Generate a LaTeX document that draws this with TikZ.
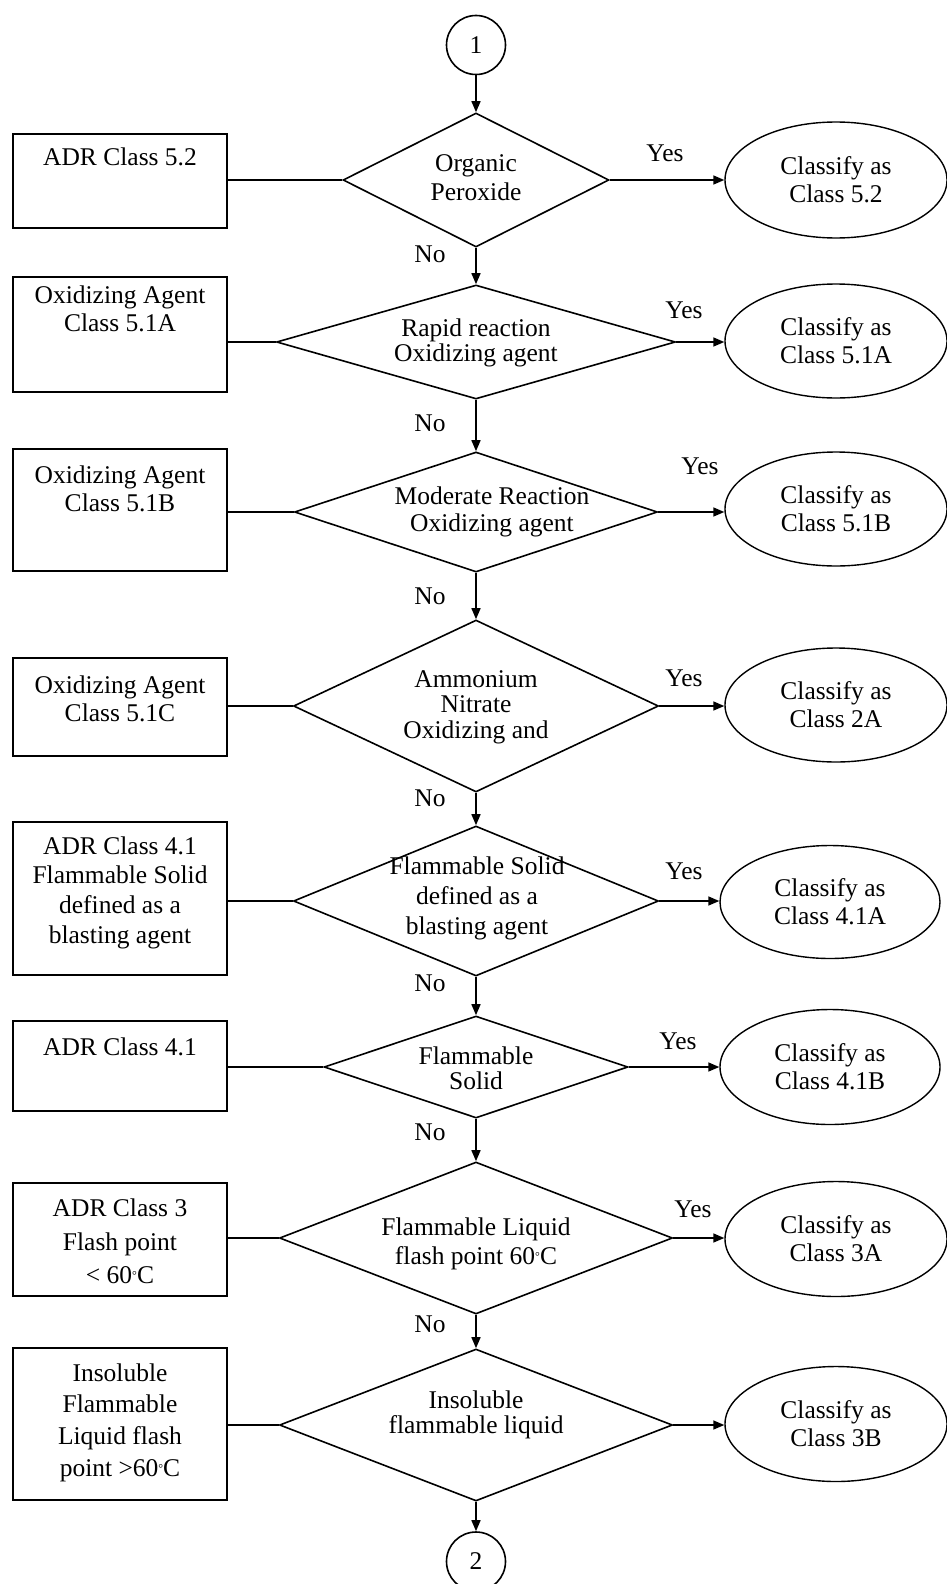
\documentclass[tikz,border=0pt]{standalone}
\usepackage{fontspec}
\setmainfont{Liberation Serif}
\usetikzlibrary{shapes.geometric,arrows.meta}
\newcommand\tsz[1]{\fontsize{12.75pt}{#1}\selectfont}
\newcommand\degr{{\fontsize{6pt}{6pt}\selectfont\raisebox{0.7ex}{°}}}
\begin{document}
\begin{tikzpicture}[x=0.5pt,y=-0.5pt,
 dia/.style={draw, line width=0.8pt, diamond, inner sep=0pt},
 box/.style={draw, line width=0.8pt, rectangle, inner sep=0pt, minimum width=107pt},
 ell/.style={draw, line width=0.7pt, ellipse, inner sep=0pt, minimum width=111pt, align=center, font=\tsz{14pt}},
 conn/.style={draw, line width=0.8pt, circle, inner sep=0pt, minimum size=29.5pt, font=\tsz{14pt}},
 txt/.style={align=center, inner sep=0pt},
 lbl/.style={inner sep=0pt, font=\tsz{14pt}},
 arr/.style={line width=0.75pt, -{Triangle[length=5.5pt,width=4.5pt]}},
 link/.style={line width=1.2pt}
]
\useasboundingbox (0,0) rectangle (947,1584);

\node[conn] (c1) at (476,45) {1};

% row 1
\node[dia, minimum width=133pt, minimum height=67pt] (d1) at (476,180) {};
\node[txt, font=\tsz{14.5pt}] (d1t) at (476,178) {Organic\\Peroxide};
\node[box, minimum height=47pt] (b1) at (120,181) {};
\node[txt, font=\tsz{14pt}] (b1t) at (120,157) {ADR Class 5.2};
\node[ell, minimum height=58pt] (e1) at (836,180) {Classify as\\Class 5.2};
\node[lbl] (y1) at (665,153) {Yes};
\node[lbl] (n1) at (430,254) {No};

% row 2
\node[dia, minimum width=199.5pt, minimum height=57pt] (d2) at (476,342) {};
\node[txt, font=\tsz{12.5pt}] (d2t) at (476,342.5) {Rapid reaction\\Oxidizing agent};
\node[box, minimum height=57.5pt] (b2) at (120,334.5) {};
\node[txt, font=\tsz{14pt}] (b2t) at (120,309) {Oxidizing Agent\\Class 5.1A};
\node[ell, minimum height=57pt] (e2) at (836,341) {Classify as\\Class 5.1A};
\node[lbl] (y2) at (684,310) {Yes};
\node[lbl] (n2) at (430,423) {No};

% row 3
\node[dia, minimum width=181.5pt, minimum height=60pt] (d3) at (476,512) {};
\node[txt, font=\tsz{13.5pt}] (d3t) at (492,511.5) {Moderate Reaction\\Oxidizing agent};
\node[box, minimum height=61pt] (b3) at (120,510) {};
\node[txt, font=\tsz{14pt}] (b3t) at (120,489) {Oxidizing Agent\\Class 5.1B};
\node[ell, minimum height=57pt] (e3) at (836,509) {Classify as\\Class 5.1B};
\node[lbl] (y3) at (700,466) {Yes};
\node[lbl] (n3) at (430,596) {No};

% row 4
\node[dia, minimum width=182.5pt, minimum height=86pt] (d4) at (476,706) {};
\node[txt, font=\tsz{12.75pt}] (d4t) at (476,707) {Ammonium\\Nitrate\\Oxidizing and};
\node[box, minimum height=49pt] (b4) at (120,707) {};
\node[txt, font=\tsz{14pt}] (b4t) at (120,699) {Oxidizing Agent\\Class 5.1C};
\node[ell, minimum height=57pt] (e4) at (836,705) {Classify as\\Class 2A};
\node[lbl] (y4) at (684,678) {Yes};
\node[lbl] (n4) at (430,798) {No};

% row 5
\node[dia, minimum width=182.5pt, minimum height=75pt] (d5) at (476,901) {};
\node[txt, font=\tsz{15pt}] (d5t) at (477,898) {Flammable Solid\\defined as a\\blasting agent};
\node[box, minimum height=76.5pt] (b5) at (120,898.5) {};
\node[txt, font=\tsz{14.85pt}] (b5t) at (120,892.5) {ADR Class 4.1\\Flammable Solid\\defined as a\\blasting agent};
\node[ell, minimum width=110pt, minimum height=56.5pt] (e5) at (830,902) {Classify as\\Class 4.1A};
\node[lbl] (y5) at (684,871) {Yes};
\node[lbl] (n5) at (430,983) {No};

% row 6
\node[dia, minimum width=152pt, minimum height=51pt] (d6) at (476,1067) {};
\node[txt, font=\tsz{12.5pt}] (d6t) at (476,1068) {Flammable\\Solid};
\node[box, minimum height=45pt] (b6) at (120,1066) {};
\node[txt, font=\tsz{14pt}] (b6t) at (120,1047) {ADR Class 4.1};
\node[ell, minimum width=110pt, minimum height=57.5pt] (e6) at (830,1067) {Classify as\\Class 4.1B};
\node[lbl] (y6) at (678,1041) {Yes};
\node[lbl] (n6) at (430,1132) {No};

% row 7
\node[dia, minimum width=196.5pt, minimum height=76pt] (d7) at (476,1238) {};
\node[txt, font=\tsz{14.5pt}] (d7t) at (476,1243.5) {Flammable Liquid\\flash point 60\degr C};
\node[box, minimum height=56.5pt] (b7) at (120,1239.5) {};
\node[txt, font=\tsz{16.75pt}] (b7t) at (120,1241.5) {ADR Class 3\\Flash point\\< 60\degr C};
\node[ell, minimum height=57.5pt] (e7) at (836,1239) {Classify as\\Class 3A};
\node[lbl] (y7) at (693,1209) {Yes};
\node[lbl] (n7) at (430,1324) {No};

% row 8
\node[dia, minimum width=196.5pt, minimum height=76pt] (d8) at (476,1425) {};
\node[txt, font=\tsz{12.75pt}] (d8t) at (476,1415) {Insoluble\\flammable liquid};
\node[box, minimum height=76pt] (b8) at (120,1424) {};
\node[txt, font=\tsz{15.85pt}] (b8t) at (120,1422.5) {Insoluble\\Flammable\\Liquid flash\\point >60\degr C};
\node[ell, minimum height=57.5pt] (e8) at (836,1424) {Classify as\\Class 3B};

\node[conn] (c2) at (476,1561.5) {2};

% vertical flow
\draw[arr] (c1.south) -- (d1.north);
\draw[arr] (d1.south) -- (d2.north);
\draw[arr] (d2.south) -- (d3.north);
\draw[arr] (d3.south) -- (d4.north);
\draw[arr] (d4.south) -- (d5.north);
\draw[arr] (d5.south) -- (d6.north);
\draw[arr] (d6.south) -- (d7.north);
\draw[arr] (d7.south) -- (d8.north);
\draw[arr] (d8.south) -- (c2.north);

% yes arrows and side links
\foreach \i in {1,...,8}{
  \draw[arr] (d\i.east) -- (d\i.east -| e\i.west);
  \draw[link] (b\i.east |- d\i.west) -- (d\i.west);
}
\end{tikzpicture}
\end{document}
